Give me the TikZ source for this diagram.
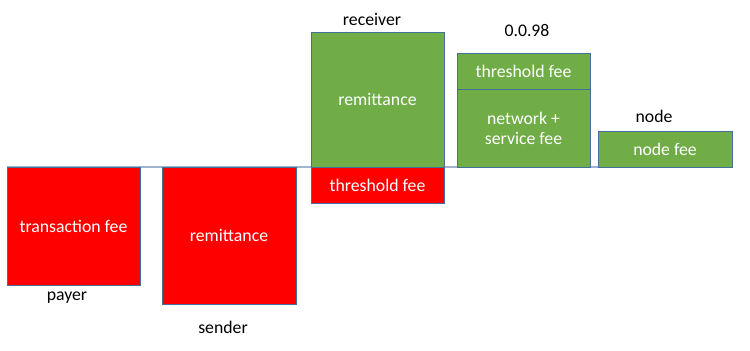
\documentclass[tikz,border=0pt]{standalone}
\usepackage{fontspec}
\setmainfont{Carlito}
\usepackage{xcolor}
\definecolor{feered}{HTML}{FF0000}
\definecolor{feegreen}{HTML}{70AD47}
\definecolor{edgeblue}{HTML}{41719C}
\definecolor{baseblue}{HTML}{9DB5CF}

\begin{document}
\begin{tikzpicture}[
  box/.style={draw=edgeblue,line width=0.5pt,text=white,inner sep=0pt,outer sep=0pt,
    align=center,font=\fontsize{10.1}{11.5}\selectfont},
  redbox/.style={box,fill=feered},
  greenbox/.style={box,fill=feegreen},
  tag/.style={font=\fontsize{10.1}{12}\selectfont,text=black}
]
\useasboundingbox (0,0) rectangle (15,-7);
\def\w{2.66}
\coordinate (L) at (0.14,-3.34);
\coordinate (R) at (12.72,-3.34);
\draw[baseblue,line width=0.6pt] (L) -- (R);

\node[redbox,minimum width=\w cm,minimum height=2.36cm] (payfee) at (1.47,-4.52) {transaction fee};
\node[redbox,minimum width=2.68cm,minimum height=2.74cm] (sendrem) at (4.58,-4.71) {remittance};
\node[greenbox,minimum width=\w cm,minimum height=2.70cm] (recrem) at (7.55,-1.99) {remittance};
\node[redbox,minimum width=\w cm,minimum height=0.72cm] (recthr) at (7.55,-3.70) {threshold fee};
\node[greenbox,minimum width=\w cm,minimum height=0.72cm] (netthr) at (10.47,-1.42) {threshold fee};
\node[greenbox,minimum width=\w cm,minimum height=1.56cm] (netfee) at (10.47,-2.56) {network +\\service fee};
\node[greenbox,minimum width=2.68cm,minimum height=0.72cm] (nodefee) at (13.30,-2.98) {node fee};

\node[tag] (payer) at (1.34,-5.95) {payer};
\node[tag] (sender) at (4.46,-6.55) {sender};
\node[tag] (receiver) at (7.44,-0.38) {receiver};
\node[tag] (version) at (10.54,-0.60) {0.0.98};
\node[tag] (node) at (13.08,-2.32) {node};
\end{tikzpicture}
\end{document}
